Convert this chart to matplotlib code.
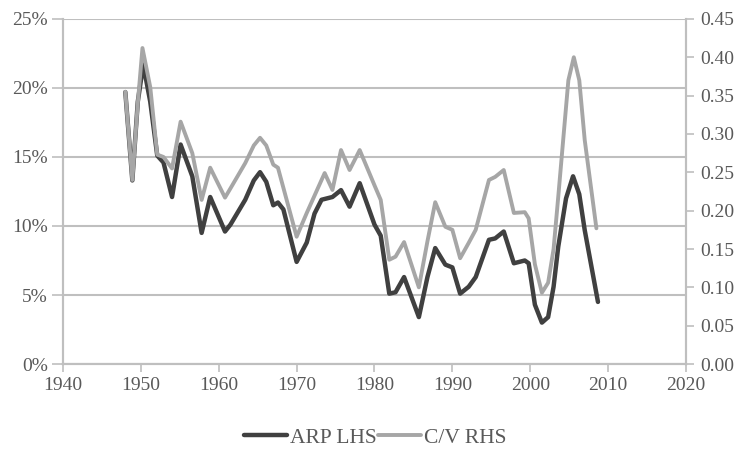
import matplotlib
matplotlib.use('Agg')
import matplotlib.pyplot as plt
from matplotlib.ticker import FuncFormatter

plt.rcParams['font.family'] = ['Liberation Serif', 'DejaVu Serif']

# ARP (left axis, %)
arp_years = [1948.0, 1948.9, 1949.6, 1950.3, 1951.2, 1952.1, 1952.9, 1954.0, 1955.1, 1956.6,
             1957.8, 1958.9, 1960.8, 1961.5, 1963.4, 1964.5, 1965.3, 1966.1, 1967.0, 1967.6,
             1968.3, 1970.0, 1971.3, 1972.3, 1973.2, 1974.6, 1975.7, 1976.8, 1978.1, 1980.0,
             1980.8, 1981.9, 1982.7, 1983.8, 1985.7, 1986.8, 1987.8, 1989.1, 1990.0, 1991.0,
             1992.1, 1993.0, 1994.7, 1995.5, 1996.6, 1997.9, 1999.3, 1999.8, 2000.6, 2001.5,
             2002.3, 2003.0, 2003.6, 2004.6, 2005.5, 2006.3, 2007.0, 2008.7]
arp_vals = [19.7, 13.3, 19.0, 21.7, 19.0, 15.1, 14.6, 12.1, 15.9, 13.6,
            9.5, 12.1, 9.6, 10.1, 11.9, 13.3, 13.9, 13.2, 11.5, 11.7,
            11.2, 7.4, 8.8, 10.9, 11.9, 12.1, 12.6, 11.4, 13.1, 10.1,
            9.3, 5.1, 5.2, 6.3, 3.4, 6.3, 8.4, 7.2, 7.0, 5.1,
            5.6, 6.3, 9.0, 9.1, 9.6, 7.3, 7.5, 7.3, 4.3, 3.0,
            3.4, 5.6, 8.5, 12.0, 13.6, 12.3, 9.7, 4.5]

# C/V (right axis)
cv_years = [1948.0, 1948.9, 1949.6, 1950.2, 1951.2, 1952.1, 1952.9, 1954.0, 1955.1, 1956.6,
            1957.8, 1958.9, 1960.8, 1961.5, 1963.4, 1964.5, 1965.3, 1966.1, 1967.0, 1967.6,
            1970.0, 1971.3, 1973.6, 1974.6, 1975.7, 1976.8, 1978.1, 1980.0, 1980.8, 1981.9,
            1982.7, 1983.8, 1985.7, 1986.8, 1987.8, 1989.1, 1990.0, 1991.0, 1992.1, 1993.0,
            1994.7, 1995.5, 1996.6, 1997.9, 1999.3, 1999.8, 2000.6, 2001.5, 2002.3, 2003.0,
            2003.6, 2004.3, 2004.9, 2005.6, 2006.3, 2007.0, 2008.5]
cv_vals = [0.355, 0.24, 0.34, 0.412, 0.361, 0.273, 0.27, 0.255, 0.316, 0.275,
           0.214, 0.256, 0.217, 0.229, 0.262, 0.285, 0.295, 0.285, 0.26, 0.256,
           0.166, 0.197, 0.249, 0.227, 0.279, 0.253, 0.279, 0.233, 0.214, 0.136,
           0.14, 0.159, 0.10, 0.16, 0.211, 0.179, 0.175, 0.138, 0.158, 0.175,
           0.24, 0.244, 0.253, 0.197, 0.198, 0.19, 0.13, 0.093, 0.106, 0.15,
           0.218, 0.30, 0.37, 0.40, 0.37, 0.292, 0.177]

txt = '#595959'
axc = '#bfbfbf'

fig = plt.figure(figsize=(7.46, 4.5), dpi=100)
ax = fig.add_axes([0.0845, 0.191, 0.835, 0.767])
ax2 = ax.twinx()

ln1, = ax.plot(arp_years, arp_vals, color='#404040', lw=3.2, solid_joinstyle='round',
               solid_capstyle='round', label='ARP LHS', zorder=3)
ln2, = ax2.plot(cv_years, cv_vals, color='#a6a6a6', lw=2.8, solid_joinstyle='round',
                solid_capstyle='round', label='C/V RHS')

ax.set_xlim(1940, 2020)
ax.set_xticks(range(1940, 2021, 10))
ax.set_ylim(0, 25)
ax.set_yticks(range(0, 26, 5))
ax.yaxis.set_major_formatter(FuncFormatter(lambda v, p: f'{v:.0f}%'))
ax2.set_ylim(0, 0.45)
ax2.set_yticks([i * 0.05 for i in range(10)])
ax2.yaxis.set_major_formatter(FuncFormatter(lambda v, p: f'{v:.2f}'))

ax.grid(axis='y', color=axc, lw=1.5)
ax.set_axisbelow(True)

for a in (ax, ax2):
    a.spines['top'].set_visible(False)
    for s in ('left', 'right', 'bottom'):
        a.spines[s].set_color(axc)
        a.spines[s].set_linewidth(1.5)
    a.tick_params(colors=axc, labelcolor=txt, labelsize=14, width=1.2, length=6)
ax.tick_params(axis='y', length=8, pad=3)
ax2.tick_params(axis='y', pad=4)
ax.tick_params(axis='x', pad=3)

fig.legend(handles=[ln1, ln2], loc='center', bbox_to_anchor=(0.503, 0.027), ncol=2,
           frameon=False, fontsize=15.5, labelcolor=txt, handlelength=2.0,
           handletextpad=0.1, columnspacing=0.1)

fig.savefig('out.png', dpi=100)
